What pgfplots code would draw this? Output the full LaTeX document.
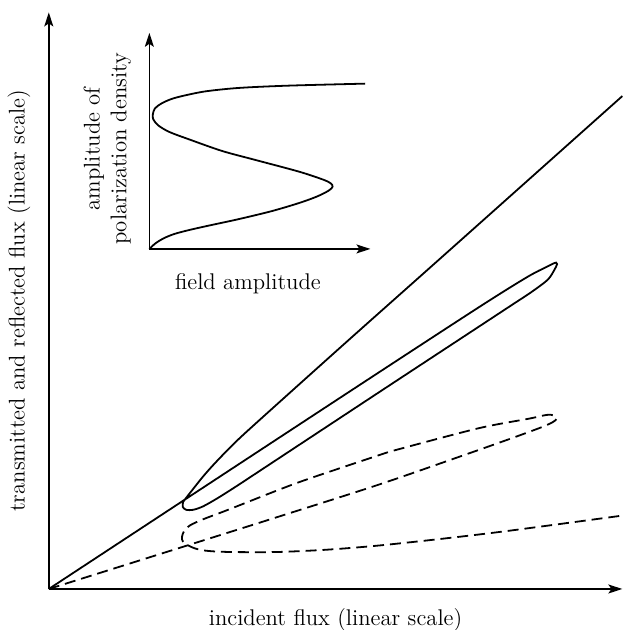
\documentclass[border=0pt]{standalone}
\usepackage{pgfplots}
\pgfplotsset{compat=1.18}
\usetikzlibrary{arrows.meta}

\pgfplotsset{
  sketch/.style={
    scale only axis, axis lines=left, ticks=none,
    enlargelimits=false, clip=false,
    axis line style={line width=0.8pt,-{Stealth[length=7pt,width=4.5pt,inset=1.5pt]}},
    label style={font=\fontsize{11.4}{13.5}\selectfont},
  },
  curve/.style={line width=0.9pt, smooth, tension=0.5},
}

\begin{document}
\begin{tikzpicture}
\path[use as bounding box] (-24.5pt,-20.6pt) rectangle (288pt,295.75pt);

% main diagram: output flux against incident flux
\begin{axis}[sketch,
    at={(0,0)}, anchor=origin,
    width=288pt, height=289.5pt,
    xmin=0, xmax=576, ymin=0, ymax=579,
    xlabel={incident flux (linear scale)},
    ylabel={transmitted and reflected flux (linear scale)},
    xlabel style={at={(axis description cs:0.5,0)}, anchor=north, yshift=-6.3pt},
    ylabel style={at={(axis description cs:-0.02,0.5)}, anchor=south},
]
% transmitted (solid)
\addplot[curve] coordinates {
(0,0) (137,90) (320,210) (432,283) (480,313) (500,323.5) (507,327)
(509.5,327.8) (510.5,326.3) (507.5,320) (501,310.5) (485,298.4)
(465,285.2) (432,263.5) (332,197.8) (212,118.7) (190,104.2) (170,91.5)
(155,83) (145,79.5) (138,79.5) (134.5,82.5) (135,87.5) (137,90.3)
(145,100.5) (155,113) (167,126.5) (187,147) (212,170) (300,249)
(400,338) (576,495)
};
% reflected (dashed)
\addplot[curve, dash pattern=on 5.5pt off 3pt] coordinates {
(0,0) (140,44) (232,73) (332,105) (420,135.5) (468,152.5) (495,162.5)
(506,167.5) (510,171) (507,174.3) (500,174.8) (482,171) (432,161.5)
(352,140.5) (332,134.5) (262,111) (232,100) (178.7,79) (155,70)
(142,64) (136,58.5) (133.7,52) (134.5,48) (137,45.3) (140,43.7)
(146,41) (155,38.8) (170,37.5) (195,37) (232,37.2) (280,39.5)
(332,43.7) (400,51) (464,58.7) (576,73.7)
};
\end{axis}

% inset: polarization density against field amplitude
\begin{axis}[sketch,
    at={(50.5pt,170.75pt)}, anchor=origin,
    width=111pt, height=108.5pt,
    xmin=0, xmax=222, ymin=0, ymax=217,
    xlabel={field amplitude},
    ylabel={amplitude of\\polarization density},
    xlabel style={at={(axis description cs:0.446,0)}, anchor=north, yshift=-8.7pt},
    ylabel style={at={(axis description cs:-0.051,0.463)}, anchor=south, align=center},
]
\addplot[curve] coordinates {
(0,0) (6,5.5) (14,10.5) (25,15) (40,19) (60,23.5) (90,30) (123,38)
(150,46) (168,52.5) (180,58.5) (184,62.5) (182,66) (174,69.8)
(150,77.7) (106.7,89.3) (73.3,98.3) (40,110) (20,117.5) (9,124)
(4,130) (3.5,135) (5.5,141) (12,146) (22,150.5) (35,154) (56.7,158.3)
(90,161.7) (140,164) (216.7,166)
};
\end{axis}
\end{tikzpicture}
\end{document}
